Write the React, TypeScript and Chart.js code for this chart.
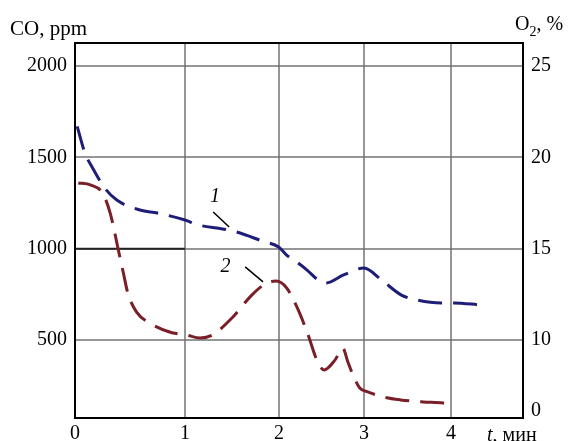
import React, { useEffect, useRef } from "react";
import { Chart, registerables, LinearScale } from "chart.js";

// ---- data ----
const timeTicks = [0, 1, 2, 3, 4];
const coTicks = [500, 1000, 1500, 2000];
const o2Ticks = [10, 15, 20, 25];
const o2BottomLabel = "0";

// curve 1 (blue)
const t1 = [0.02, 0.09, 0.16, 0.27, 0.38, 0.59, 0.75, 1.0, 1.14, 1.4, 1.55, 1.82, 2.0, 2.09, 2.21, 2.33, 2.46, 2.55, 2.76, 3.0, 3.2, 3.43, 3.61, 3.89, 4.03, 4.34];
const co1 = [1670, 1524, 1442, 1332, 1266, 1212, 1195, 1157, 1130, 1108, 1091, 1042, 1008, 965, 927, 883, 829, 812, 856, 894, 829, 746, 719, 703, 703, 692];

// curve 2 (red)
const t2 = [0.03, 0.14, 0.25, 0.32, 0.36, 0.39, 0.44, 0.48, 0.56, 0.68, 0.86, 1.02, 1.16, 1.29, 1.51, 1.71, 1.87, 1.97, 2.09, 2.21, 2.33, 2.46, 2.53, 2.66, 2.75, 2.81, 2.87, 2.95, 3.05, 3.22, 3.42, 3.68, 3.91, 3.97];
const co2 = [1360, 1349, 1305, 1195, 1091, 1004, 867, 757, 653, 593, 544, 527, 511, 527, 626, 746, 812, 823, 785, 681, 544, 374, 336, 391, 456, 380, 309, 237, 215, 188, 172, 161, 155, 150];

// annotations (data coords)
const label1 = { t: 1.32, v: 1283, text: "1" };
const leader1 = [1.3, 1201, 1.47, 1119];
const label2 = { t: 1.43, v: 900, text: "2" };
const leader2 = [1.64, 900, 1.83, 818];

// axis ranges
const xMax = 4.83;
const coMin = 73;
const coMax = 2126;
const o2Min = 5.73;
const o2Max = 26.26;
const o2BottomTick = 6.1;

// non-uniform time axis as printed in the reference
const warpValues = [0, 1, 2, 3, 4, xMax];
const warpFractions = [0, 0.2455, 0.4554, 0.6451, 0.8393, 1];

function interp(v: number, xs: number[], ys: number[]) {
  let i = 0;
  if (v <= xs[0]) i = 0;
  else if (v >= xs[xs.length - 1]) i = xs.length - 2;
  else {
    while (i < xs.length - 2 && v > xs[i + 1]) i++;
  }
  const x0 = xs[i], x1 = xs[i + 1];
  const y0 = ys[i], y1 = ys[i + 1];
  return y0 + ((v - x0) / (x1 - x0)) * (y1 - y0);
}

class WarpScale extends LinearScale {
  static id = "warp";
  static defaults = { ...(LinearScale as any).defaults };
  getPixelForValue(value: any) {
    if (value === null || value === undefined || isNaN(value)) return NaN;
    return (this as any).getPixelForDecimal(interp(value, warpValues, warpFractions));
  }
  getValueForPixel(pixel: number) {
    const f = (this as any).getDecimalForPixel(pixel);
    return interp(f, warpFractions, warpValues);
  }
}

Chart.register(...registerables, WarpScale as any);

const FONT = "'Liberation Serif', 'Times New Roman', serif";

const decor = {
  id: "decor",
  beforeDatasetsDraw(chart: any) {
    const { ctx, scales } = chart;
    const x = scales.x, y = scales.y;
    ctx.save();
    ctx.strokeStyle = "#222";
    ctx.lineWidth = 2;
    ctx.beginPath();
    ctx.moveTo(x.getPixelForValue(0), y.getPixelForValue(1000));
    ctx.lineTo(x.getPixelForValue(1), y.getPixelForValue(1000));
    ctx.stroke();
    ctx.restore();
  },
  afterDraw(chart: any) {
    const { ctx, chartArea: a, scales } = chart;
    const x = scales.x, y = scales.y;
    ctx.save();
    // frame
    ctx.strokeStyle = "#000";
    ctx.lineWidth = 2;
    ctx.strokeRect(a.left, a.top, a.right - a.left, a.bottom - a.top);

    ctx.fillStyle = "#000";
    ctx.textBaseline = "alphabetic";
    // left title
    ctx.font = `21px ${FONT}`;
    ctx.textAlign = "left";
    ctx.fillText("CO, ppm", 10, 35);
    // right title O2, %
    let px = 515;
    ctx.font = `20px ${FONT}`;
    ctx.fillText("O", px, 30);
    px += ctx.measureText("O").width;
    ctx.font = `14px ${FONT}`;
    ctx.fillText("2", px, 36);
    px += ctx.measureText("2").width;
    ctx.font = `20px ${FONT}`;
    ctx.fillText(", %", px, 30);
    // x title
    ctx.font = `italic 20px ${FONT}`;
    let tx = 487;
    ctx.fillText("t", tx, 441);
    tx += ctx.measureText("t").width;
    ctx.font = `20px ${FONT}`;
    ctx.fillText(", мин", tx, 441);

    // curve labels
    ctx.font = `italic 20px ${FONT}`;
    ctx.textAlign = "center";
    ctx.textBaseline = "middle";
    ctx.fillText(label1.text, x.getPixelForValue(label1.t), y.getPixelForValue(label1.v));
    ctx.fillText(label2.text, x.getPixelForValue(label2.t), y.getPixelForValue(label2.v));
    ctx.lineWidth = 1.5;
    ctx.beginPath();
    ctx.moveTo(x.getPixelForValue(leader1[0]), y.getPixelForValue(leader1[1]));
    ctx.lineTo(x.getPixelForValue(leader1[2]), y.getPixelForValue(leader1[3]));
    ctx.moveTo(x.getPixelForValue(leader2[0]), y.getPixelForValue(leader2[1]));
    ctx.lineTo(x.getPixelForValue(leader2[2]), y.getPixelForValue(leader2[3]));
    ctx.stroke();
    ctx.restore();
  },
};

export default function App() {
  const ref = useRef<HTMLCanvasElement | null>(null);
  useEffect(() => {
    if (!ref.current) return;
    const gridColor = "rgba(105,105,105,0.7)";
    const tickFont = { family: FONT, size: 20 };
    const chart = new Chart(ref.current, {
      type: "line",
      data: {
        datasets: [
          {
            label: "1",
            data: t1.map((t, i) => ({ x: t, y: co1[i] })),
            borderColor: "#1e1e78",
            borderWidth: 3,
            borderDash: [24, 11],
            pointRadius: 0,
            cubicInterpolationMode: "monotone",
            fill: false,
            yAxisID: "y",
          },
          {
            label: "2",
            data: t2.map((t, i) => ({ x: t, y: co2[i] })),
            borderColor: "#7a1e28",
            borderWidth: 3,
            borderDash: [24, 11],
            pointRadius: 0,
            cubicInterpolationMode: "monotone",
            fill: false,
            yAxisID: "y",
          },
        ],
      },
      options: {
        animation: false,
        responsive: false,
        maintainAspectRatio: false,
        devicePixelRatio: 1,
        layout: { padding: { top: 43, left: 0, right: 0, bottom: 0 } },
        plugins: { legend: { display: false }, tooltip: { enabled: false } },
        scales: {
          x: {
            type: "warp" as any,
            position: "bottom",
            min: 0,
            max: xMax,
            afterBuildTicks: (s: any) => {
              s.ticks = timeTicks.map((v) => ({ value: v }));
            },
            afterFit: (s: any) => {
              s.height = 23;
            },
            grid: { color: gridColor, lineWidth: 2, drawTicks: false },
            border: { display: false },
            ticks: {
              color: "#000",
              font: tickFont,
              padding: 4,
              maxRotation: 0,
              autoSkip: false,
              callback: (v: any) => String(v),
            },
          } as any,
          y: {
            position: "left",
            min: coMin,
            max: coMax,
            afterBuildTicks: (s: any) => {
              s.ticks = coTicks.map((v) => ({ value: v }));
            },
            afterFit: (s: any) => {
              s.width = 75;
            },
            grid: { color: gridColor, lineWidth: 2, drawTicks: false },
            border: { display: false },
            ticks: { color: "#000", font: tickFont, padding: 8, callback: (v: any) => String(v) },
          },
          y2: {
            position: "right",
            min: o2Min,
            max: o2Max,
            afterBuildTicks: (s: any) => {
              s.ticks = [o2BottomTick, ...o2Ticks].map((v) => ({ value: v }));
            },
            afterFit: (s: any) => {
              s.width = 51;
            },
            grid: { display: false, drawTicks: false },
            border: { display: false },
            ticks: {
              color: "#000",
              font: tickFont,
              padding: 8,
              callback: (v: any) => (v === o2BottomTick ? o2BottomLabel : String(v)),
            },
          },
        },
      },
      plugins: [decor],
    });
    return () => chart.destroy();
  }, []);
  return (
    <div style={{ position: "fixed", left: 0, top: 0, width: 574, height: 441, background: "#fff" }}>
      <canvas ref={ref} width={574} height={441} style={{ width: 574, height: 441 }} />
    </div>
  );
}
